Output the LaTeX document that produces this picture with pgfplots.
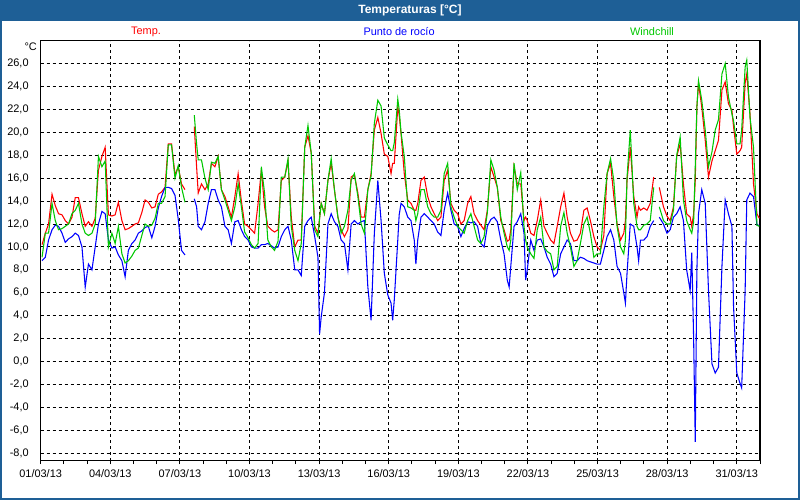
\documentclass[border=0pt]{standalone}
\usepackage{fontspec}
\setmainfont{Liberation Sans}
\usepackage{pgfplots}
\pgfplotsset{compat=1.18}
\usepackage{pgfplotstable}
\definecolor{barra}{RGB}{30,95,150}
\definecolor{verde}{RGB}{0,200,0}

% d = dias desde 01/03/13 00:00; T = temp., D = punto de rocio, W = windchill
\pgfplotstableread{
d T D W
0.06 10.2 8.8 9.1
0.20 11.2 9.1 11.2
0.34 12.0 10.6 11.2
0.49 14.6 11.5 13.8
0.63 13.6 11.9 12.3
0.77 12.9 11.8 11.5
0.92 12.8 11.2 11.6
1.06 12.3 10.4 11.8
1.20 12.0 10.7 12.0
1.35 12.6 10.9 12.9
1.49 14.3 11.2 13.2
1.63 14.3 11.0 13.8
1.78 12.9 10.0 12.0
1.92 11.8 6.5 11.2
2.06 12.2 8.5 11.0
2.21 11.8 8.0 11.2
2.35 12.5 10.0 12.0
2.49 16.7 12.0 17.9
2.64 17.9 13.1 17.0
2.78 18.7 12.9 17.5
2.92 12.8 10.6 10.0
3.07 12.7 9.9 11.2
3.21 12.8 10.0 10.3
3.35 13.9 9.3 11.8
3.50 12.3 8.8 9.4
3.64 11.5 7.4 8.6
3.78 11.6 9.7 8.8
3.93 11.8 10.3 9.2
4.07 12.0 10.6 9.7
4.21 12.1 11.2 9.9
4.36 13.0 11.4 11.0
4.50 14.1 11.7 12.0
4.64 13.9 11.8 11.8
4.79 13.4 10.8 11.9
4.93 13.5 11.8 12.5
5.07 14.6 13.4 13.8
5.21 14.8 14.4 13.8
5.36 15.2 15.2 14.4
5.50 19.0 15.2 18.9
5.64 19.0 15.1 18.9
5.79 16.3 14.5 16.0
5.93 17.0 12.4 17.1
6.07 15.5 9.7 15.2
6.22 15.0 9.3 13.9
6.40 nan nan nan
6.62 20.5 14.2 21.5
6.72 17.0 13.5 19.0
6.79 14.7 11.8 17.6
6.93 15.5 11.5 17.6
7.08 15.0 12.2 16.0
7.22 15.5 13.8 15.0
7.36 17.3 15.0 17.4
7.51 17.0 15.0 17.3
7.65 17.9 14.1 17.9
7.79 15.0 13.5 15.0
7.94 14.4 11.8 14.1
8.08 13.5 11.5 13.2
8.22 12.6 10.3 12.3
8.37 14.4 12.2 13.5
8.51 16.4 12.3 15.5
8.65 14.0 11.5 13.5
8.79 12.0 10.9 11.3
8.94 11.8 10.6 10.8
9.08 11.5 10.0 10.2
9.22 11.2 9.9 9.9
9.37 13.8 9.9 10.3
9.51 16.7 10.2 17.0
9.65 13.5 10.2 14.7
9.79 11.8 10.3 10.6
9.94 11.5 10.1 10.0
10.08 11.3 9.9 9.7
10.23 11.5 10.0 10.5
10.37 15.8 10.9 16.1
10.52 16.1 11.5 16.1
10.66 17.5 11.8 17.7
10.80 12.6 10.6 11.8
10.95 10.0 8.0 9.7
11.09 10.6 8.0 8.8
11.23 10.6 7.5 10.3
11.38 18.7 11.8 18.7
11.52 19.7 12.3 20.6
11.66 18.2 12.6 18.2
11.81 11.8 10.9 11.5
11.95 11.2 9.1 10.9
12.02 12.5 2.4 12.5
12.09 13.8 3.9 13.8
12.23 12.9 6.0 12.9
12.38 15.8 12.0 15.8
12.52 17.3 12.9 17.7
12.66 15.0 12.2 15.0
12.81 12.6 11.8 12.6
12.95 11.5 10.6 11.2
13.09 10.9 10.3 11.8
13.24 11.5 8.0 13.2
13.38 16.1 12.0 15.8
13.52 16.3 12.3 16.4
13.67 14.7 12.0 14.4
13.81 12.6 12.2 12.0
13.95 12.6 12.3 11.2
14.10 15.0 6.5 15.0
14.24 16.4 3.6 16.2
14.38 20.2 11.2 20.8
14.53 21.3 15.8 22.8
14.67 19.9 12.3 22.3
14.81 18.1 7.7 19.5
14.96 17.9 5.8 18.9
15.10 16.4 5.1 18.4
15.17 17.3 3.6 18.4
15.24 17.3 5.4 19.1
15.39 22.2 10.6 22.9
15.45 21.5 12.8 22.0
15.53 19.9 13.8 20.0
15.67 16.4 13.5 17.9
15.82 14.1 12.6 13.5
15.96 13.8 12.3 13.4
16.10 13.2 10.6 13.2
16.17 13.2 8.5 12.3
16.25 13.8 10.6 12.9
16.39 15.8 12.6 15.0
16.53 16.1 12.9 15.0
16.68 14.4 12.6 13.5
16.82 13.5 12.3 12.9
16.96 12.9 12.0 12.6
17.11 12.3 11.3 12.6
17.25 12.6 11.0 13.2
17.39 15.8 13.2 16.4
17.54 16.7 14.7 17.3
17.68 13.8 13.2 13.5
17.82 13.2 12.0 12.6
17.97 12.9 11.8 11.8
18.11 12.0 10.9 11.5
18.25 12.3 11.6 11.2
18.40 13.8 12.2 12.3
18.54 14.4 12.1 12.9
18.68 12.9 12.2 11.8
18.83 12.3 11.8 10.6
18.97 11.9 10.3 10.3
19.11 11.5 10.0 10.9
19.25 13.2 11.8 13.0
19.40 17.0 12.4 17.6
19.54 16.1 12.6 16.7
19.68 15.2 12.2 15.2
19.83 12.3 10.6 12.6
19.97 11.5 9.4 11.2
20.11 10.5 7.1 10.0
20.19 10.6 6.5 9.7
20.26 11.5 8.3 10.6
20.40 17.0 11.8 17.3
20.54 15.5 12.2 15.0
20.69 15.5 12.9 16.5
20.83 12.3 11.2 11.8
20.90 12.6 7.1 10.6
20.97 12.3 8.0 10.0
21.12 11.2 10.6 9.4
21.26 11.0 9.7 9.0
21.40 12.3 10.6 11.5
21.55 14.1 10.7 12.6
21.69 11.8 10.0 10.0
21.83 11.2 9.1 9.6
21.98 10.6 8.5 9.4
22.12 10.3 7.4 8.0
22.26 11.8 7.7 8.3
22.41 13.5 9.4 11.8
22.55 14.7 10.0 13.0
22.69 12.6 10.6 11.2
22.83 11.2 10.3 10.0
22.98 10.5 8.8 8.3
23.12 10.6 8.8 8.8
23.26 11.2 9.1 10.3
23.41 13.2 9.0 12.0
23.55 13.4 8.8 12.6
23.69 12.3 8.7 11.2
23.84 10.9 8.6 9.1
23.98 10.0 8.5 9.4
24.12 9.7 8.5 9.4
24.27 11.0 9.7 13.5
24.41 16.4 10.9 16.4
24.56 17.3 11.5 17.7
24.70 14.4 10.6 15.8
24.84 12.0 8.3 11.8
24.99 10.6 7.7 10.0
25.13 11.2 6.0 9.4
25.20 12.3 5.1 10.6
25.27 15.8 7.7 16.1
25.41 18.7 12.0 20.2
25.56 14.4 11.8 13.8
25.70 12.6 10.0 11.8
25.77 13.5 8.8 11.5
25.85 13.2 10.6 11.5
25.99 13.4 10.6 11.9
26.13 13.2 10.9 12.0
26.27 13.8 11.8 12.3
26.42 16.1 12.3 15.2
26.55 nan nan nan
26.66 15.2 12.6 13.5
26.84 13.5 12.0 12.3
26.99 12.7 11.2 12.0
27.13 12.3 11.5 12.0
27.27 13.5 12.6 13.2
27.41 17.9 12.9 18.0
27.56 19.0 13.5 19.6
27.70 15.5 12.3 14.1
27.84 12.9 8.0 12.3
27.99 12.6 6.2 11.5
28.06 11.8 9.5 11.2
28.14 12.9 2.0 12.2
28.21 15.8 -7.0 17.0
28.28 22.2 8.0 22.2
28.35 24.3 12.9 24.5
28.49 22.2 15.0 22.8
28.64 19.3 13.8 20.2
28.78 16.1 6.2 17.0
28.93 17.5 -0.2 18.3
29.07 18.4 -1.0 20.2
29.21 19.3 -0.5 21.1
29.36 23.7 8.3 25.1
29.50 24.4 14.1 26.0
29.64 22.5 12.9 23.1
29.79 21.9 11.8 21.6
29.86 20.5 4.8 21.0
30.00 18.1 -1.0 19.0
30.14 18.4 -1.9 19.0
30.21 18.7 -2.3 20.2
30.36 24.3 6.2 25.7
30.43 25.1 14.1 26.3
30.57 21.6 14.7 21.3
30.72 15.5 14.4 18.7
30.87 12.9 11.9 11.9
30.97 12.5 11.9 11.8
}\datos

\begin{document}
\begin{tikzpicture}
\useasboundingbox (0,0) rectangle (600pt,375pt);
\fill[white] (0,0) rectangle (600pt,375pt);
\fill[barra] (0,359.5pt) rectangle (600pt,375pt);
\draw[barra, line width=1.5pt] (0.75pt,0.75pt) rectangle (599.25pt,374.25pt);
\node[text=white, font=\fontsize{9}{10}\selectfont\bfseries] at (307.5pt,367.2pt) {Temperaturas [°C]};

\node[text=red, font=\fontsize{8.2}{10}\selectfont] at (109.5pt,351pt) {Temp.};
\node[text=blue, font=\fontsize{8.2}{10}\selectfont] at (299.3pt,351pt) {Punto de rocío};
\node[text=verde, font=\fontsize{8.2}{10}\selectfont] at (489pt,351pt) {Windchill};
\node[font=\fontsize{8.2}{10}\selectfont] at (23pt,340pt) {°C};

\begin{axis}[
  at={(30.5pt,29.5pt)}, anchor=south west,
  scale only axis, width=539.5pt, height=315pt,
  xmin=0, xmax=31, ymin=-8.65, ymax=28,
  xtick={0,3,...,30},
  xticklabels={01/03/13,04/03/13,07/03/13,10/03/13,13/03/13,16/03/13,19/03/13,22/03/13,25/03/13,28/03/13,31/03/13},
  minor xtick={1,2,...,31},
  ytick={-8,-6,...,26},
  xtick pos=bottom, ytick pos=left,
  tick align=outside,
  major tick length=2.5pt, minor tick length=2.5pt,
  tick style={black, line width=0.75pt},
  ytick style={draw=none},
  grid=major,
  major grid style={black, line width=0.75pt, dash pattern=on 2.25pt off 2.25pt},
  axis line style={black, line width=1.1pt},
  ticklabel style={font=\fontsize{8.2}{10}\selectfont},
  xticklabel style={yshift=-1pt},
  yticklabel style={xshift=-3pt,
    /pgf/number format/.cd, fixed, fixed zerofill, precision=1, use comma, assume math mode=true},
  unbounded coords=jump,
]
\addplot[red, line width=0.8pt] table[x=d, y=T] {\datos};
\addplot[blue, line width=0.8pt] table[x=d, y=D] {\datos};
\addplot[verde, line width=0.8pt] table[x=d, y=W] {\datos};
\end{axis}
\end{tikzpicture}
\end{document}
